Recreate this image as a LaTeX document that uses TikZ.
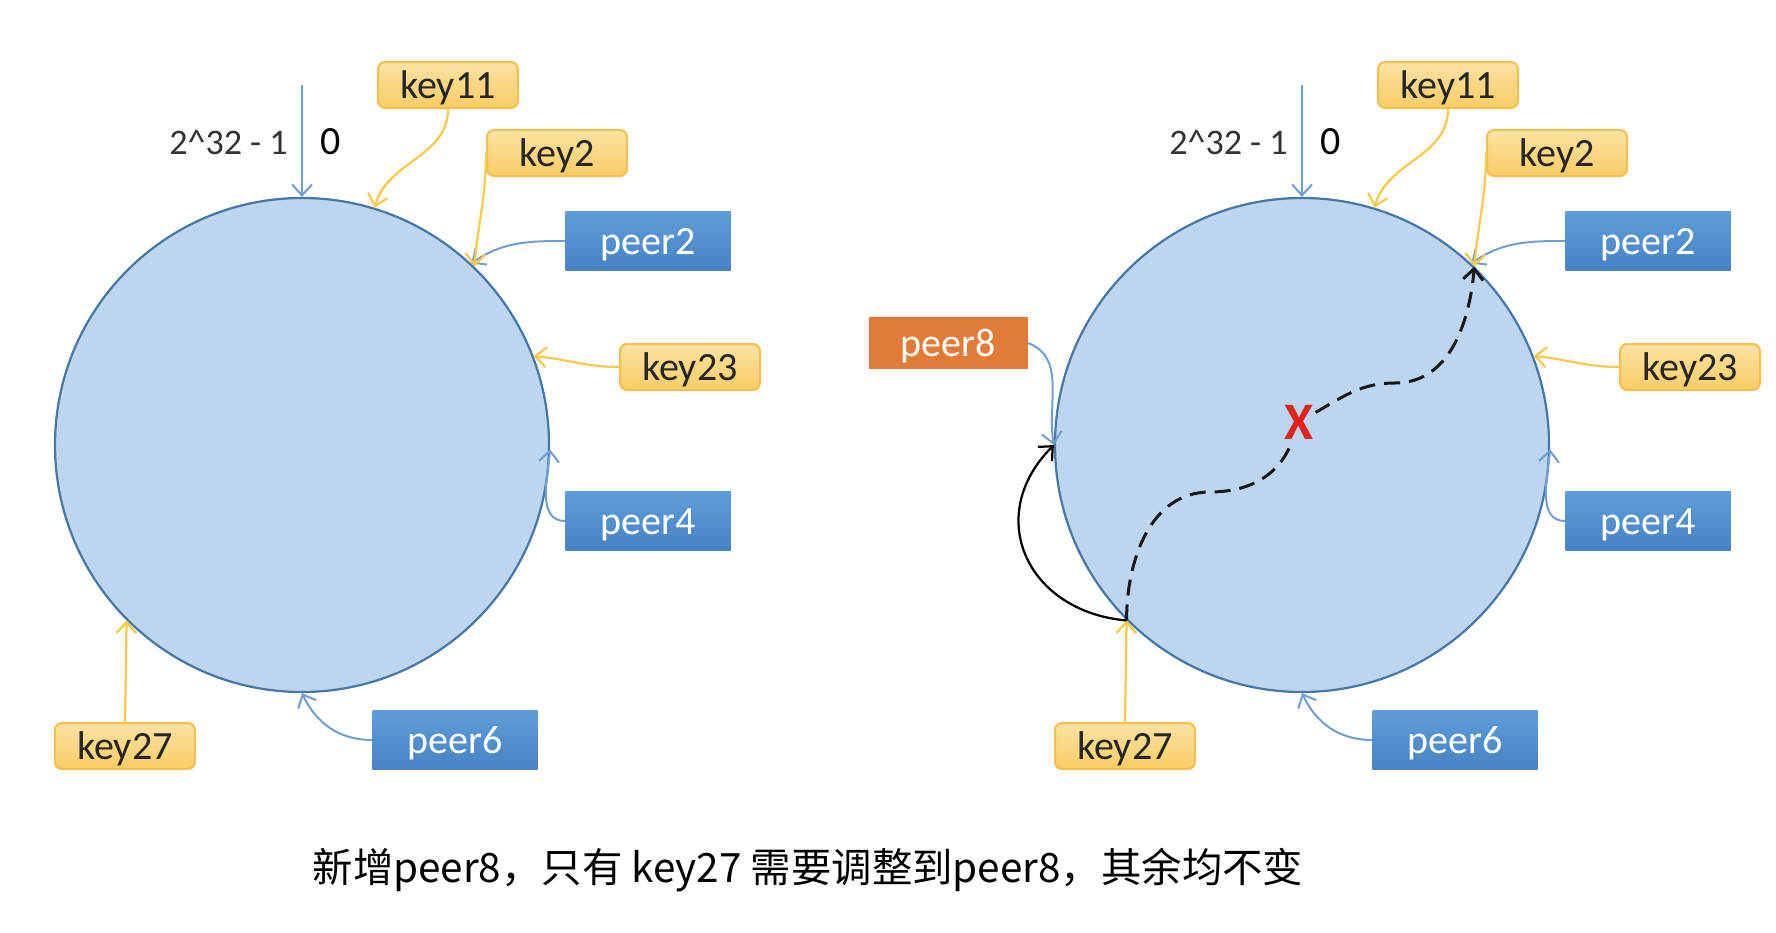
\documentclass[tikz,border=0pt]{standalone}
\usepackage{fontspec}
\setmainfont{Carlito}
\newfontfamily\cjkfont{Noto Sans CJK SC}
\usetikzlibrary{arrows.meta}
\definecolor{ringfill}{HTML}{BDD5EE}
\definecolor{ringline}{HTML}{4A78A6}
\definecolor{keytop}{HTML}{FDE2A2}
\definecolor{keybot}{HTML}{F9CC66}
\definecolor{keyedge}{HTML}{F3C04F}
\definecolor{keyyellow}{HTML}{F8C94A}
\definecolor{peertop}{HTML}{5E9DDA}
\definecolor{peerbot}{HTML}{4882C4}
\definecolor{peerblue}{HTML}{6E9FD3}
\definecolor{neworange}{HTML}{E27B38}
\definecolor{crossred}{HTML}{E2231A}
\tikzset{
  >={Straight Barb[length=2.2mm,width=4mm]},
}
\tikzstyle{every node}=[font=\fontsize{22.8}{26}\selectfont]
\tikzstyle{ring}=[circle,draw=ringline,line width=0.45mm,fill=ringfill,minimum size=98.8mm,inner sep=0pt]
\tikzstyle{boxtext}=[inner sep=0pt,text height=19.5pt,text depth=4.5pt]
\tikzstyle{keybox}=[boxtext,draw=keyedge,line width=0.4mm,rounded corners=1.4mm,top color=keytop,bottom color=keybot,minimum width=28mm,minimum height=9.2mm,text=black!85]
\tikzstyle{peerbox}=[boxtext,top color=peertop,bottom color=peerbot,minimum width=33mm,minimum height=11.8mm,text=white]
\tikzstyle{newbox}=[boxtext,fill=neworange,minimum width=31.8mm,minimum height=10.4mm,text=white]
\tikzstyle{keywire}=[keyyellow,line width=0.45mm,->]
\tikzstyle{peerwire}=[peerblue,line width=0.4mm,->]
\tikzstyle{moveline}=[black!90,line width=0.6mm,dash pattern=on 3.2mm off 1.8mm]

\begin{document}
\begin{tikzpicture}[x=0.2mm,y=-0.2mm]
  \useasboundingbox (0,0) rectangle (1776,932);
  \foreach \s/\dx in {a/0,b/1000}{
    \begin{scope}[shift={(\dx,0)}]
      \node[ring] (ring\s) at (302,445) {};
      \coordinate (top\s) at (302,85);
      \draw[peerwire] (top\s) -- (ring\s.90);
      \node[anchor=east,inner sep=0pt,text=black!80,font=\fontsize{20.5}{22}\selectfont] (max\s) at (288,142) {2\textasciicircum 32 - 1};
      \node[anchor=west,inner sep=0pt] (zero\s) at (320,142) {0};
      \node[keybox] (key11\s) at (448,85) {key11};
      \node[keybox] (key2\s) at (557,153) {key2};
      \node[peerbox] (peer2\s) at (648,241) {peer2};
      \node[keybox] (key23\s) at (690,367) {key23};
      \node[peerbox] (peer4\s) at (648,521) {peer4};
      \node[peerbox] (peer6\s) at (455,740) {peer6};
      \node[keybox] (key27\s) at (125,746) {key27};
      \draw[keywire] (key11\s.south) to[out=-90,in=75] (ring\s.73.6);
      \draw[peerwire] (peer2\s.west) to[out=180,in=35] (ring\s.47);
      \draw[keywire] (key2\s.west) to[out=-90,in=85] (ring\s.46);
      \draw[keywire] (key23\s.west) to[out=180,in=-5] (ring\s.21);
      \draw[peerwire] (peer4\s.west) to[out=180,in=-95] (ring\s.-1);
      \draw[peerwire] (peer6\s.west) to[out=180,in=-65] (ring\s.-90);
      \draw[keywire] (key27\s.north) -- (ring\s.-135);
    \end{scope}
  }
  % new peer and the moved key
  \node[newbox] (peer8) at (948,343) {peer8};
  \draw[peerwire] (peer8.east) to[out=-20,in=100] (ringb.180);
  \draw[black,line width=0.45mm,->] (ringb.-135) to[out=175,in=225,looseness=1.35] (ringb.180);
  \node[text=crossred,inner sep=1pt,font=\fontsize{30}{30}\selectfont\bfseries] (cross) at (1299,422) {X};
  \coordinate (bend1) at (1210,492);
  \coordinate (bend2) at (1395,383);
  \draw[moveline] (ringb.-135) to[out=90,in=180] (bend1) to[out=0,in=-110] (cross);
  \draw[moveline,->] (cross) to[out=30,in=180] (bend2) to[out=0,in=-95] (ringb.46);
  \node[font=\cjkfont\fontsize{23}{26}\selectfont] (note) at (808,870) {新增peer8，只有 key27 需要调整到peer8，其余均不变};
\end{tikzpicture}
\end{document}
